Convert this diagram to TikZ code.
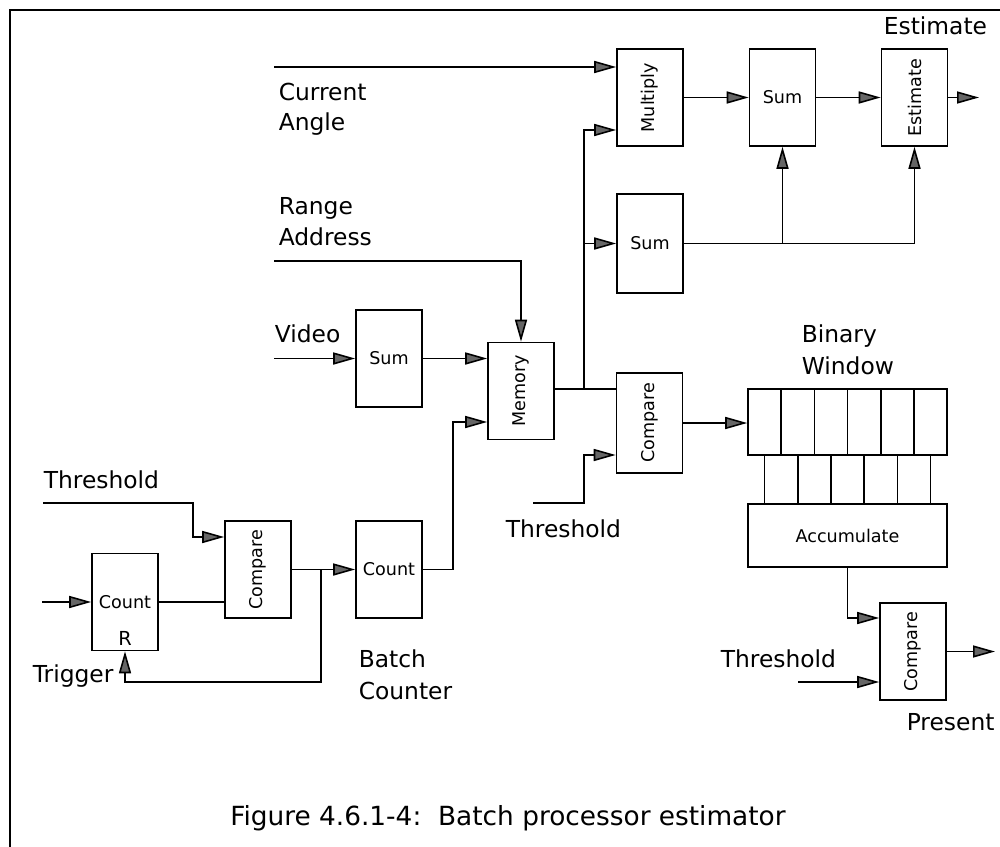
\documentclass[tikz,border=0pt]{standalone}
\usepackage{fontspec}
\setmainfont{DejaVu Sans}
\usetikzlibrary{arrows.meta,positioning,calc}

\begin{document}
\begin{tikzpicture}[
  x=0.2mm, y=-0.2mm,
  line width=0.9pt,
  blk/.style={draw,minimum width=13.2mm,minimum height=19.4mm,inner sep=0pt,font=\fontsize{10}{12}\selectfont},
  cell/.style={draw,minimum width=6.63mm,minimum height=13.2mm,inner sep=0pt},
  lbl/.style={anchor=base west,inner sep=0pt,font=\fontsize{13.3}{16}\selectfont},
  arr/.style={-{Triangle[length=4.4mm,width=2.4mm,fill=black!60]}}
]
\useasboundingbox (0,0) rectangle (1000,847);
\draw (10,847) |- (1000,10);

% blocks
\node[blk] (mul) at (650,97.5) {\rotatebox{90}{Multiply}};
\node[blk] (sumA) at (782.5,97.5) {Sum};
\node[blk] (est) at (914.5,97.5) {\rotatebox{90}{Estimate}};
\node[blk,minimum height=19.8mm] (sumB) at (650,243.5) {Sum};
\node[blk] (mem) at (521,391) {\rotatebox{90}{Memory}};
\node[blk,minimum height=20mm] (cmpM) at (649.5,423) {\rotatebox{90}{Compare}};
\node[blk] (sumV) at (389,358.5) {Sum};
\node[blk] (cntB) at (389,569.5) {Count};
\node[blk] (cmpL) at (258,569.5) {\rotatebox{90}{Compare}};
\node[blk] (cntL) at (125,602) {Count};
\node[inner sep=0pt,font=\fontsize{11}{12}\selectfont] (rst) at (125,638.5) {R};
\node[blk,minimum width=39.8mm,minimum height=12.6mm] (acc) at (847.5,535.5) {Accumulate};
\node[blk] (cmpP) at (913,651.5) {\rotatebox{90}{Compare}};

% binary window
\foreach \i in {0,...,5} {
  \node[cell] (w\i) at (764.6+33.17*\i,422) {};
  \draw (w\i.south) -- (w\i.south |- acc.north);
}

% inputs and links
\coordinate (ca) at (274,67);
\draw[arr] (ca) -- (ca -| mul.west);
\coordinate (ra) at (274,261);
\draw[arr] (ra) -| (mem.north);
\coordinate (vid) at (274,358.5);
\draw[arr] (vid) -- (sumV.west);
\draw[arr] (sumV.east) -- (sumV.east -| mem.west);

\coordinate (jm) at (584,389);
\coordinate (jt) at (584,130);
\draw (mem.east |- jm) -- (cmpM.west |- jm);
\draw[arr] (jm) -- (jt) -- (jt -| mul.west);
\draw[arr] (jm |- sumB.west) -- (sumB.west);

\draw[arr] (mul) -- (sumA);
\draw[arr] (sumA) -- (est);
\coordinate (eo) at (979,97.5);
\draw[arr] (est) -- (eo);
\draw[arr] (sumB.east) -| (est.south);
\draw[arr] (sumB.east -| sumA.south) -- (sumA.south);

\coordinate (thM) at (533,503);
\coordinate (thMi) at (584,455);
\draw[arr] (thM) -| (thMi) -- (thMi -| cmpM.west);
\draw[arr] (cmpM.east) -- (cmpM.east -| w0.west);

\coordinate (ja) at (846,618);
\draw[arr] (acc.south) |- (cmpP.west |- ja);
\coordinate (thR) at (798,682);
\draw[arr] (thR) -- (thR -| cmpP.west);
\coordinate (po) at (995,651.5);
\draw[arr] (cmpP.east) -- (po);

\coordinate (thL) at (43,503);
\coordinate (thLi) at (193,537);
\draw[arr] (thL) -| (thLi) -- (thLi -| cmpL.west);
\coordinate (cin) at (42,602);
\draw[arr] (cin) -- (cntL.west);
\draw (cntL.east) -- (cntL.east -| cmpL.west);
\draw[arr] (cmpL) -- (cntB);
\coordinate (jf) at (321,569.5);
\coordinate (trg) at (125,682);
\draw[arr] (jf) |- (trg) -- (cntL.south);
\coordinate (mi) at (453,422);
\draw[arr] (cntB.east) -| (mi) -- (mi -| mem.west);

% labels
\node[lbl] (lcur) at (278,100) {Current};
\node[lbl] (lang) at (278,131) {Angle};
\node[lbl] (lrng) at (278,214) {Range};
\node[lbl] (ladr) at (278,245) {Address};
\node[lbl] (lvid) at (274,342) {Video};
\node[lbl] (lthL) at (43,488) {Threshold};
\node[lbl] (lthM) at (505,537) {Threshold};
\node[lbl] (ltrg) at (32,682) {Trigger};
\node[lbl] (lbat) at (358,667) {Batch};
\node[lbl] (lctr) at (358,699) {Counter};
\node[lbl] (lbin) at (801,342) {Binary};
\node[lbl] (lwin) at (801,374) {Window};
\node[lbl] (lthR) at (720,667) {Threshold};
\node[lbl] (lpre) at (906,730) {Present};
\node[lbl] (lest) at (883,35) {Estimate};
\node[anchor=base,inner sep=0pt,font=\fontsize{15}{18}\selectfont] (cap) at (508,825) {Figure 4.6.1-4:\ \ Batch processor estimator};
\end{tikzpicture}
\end{document}
